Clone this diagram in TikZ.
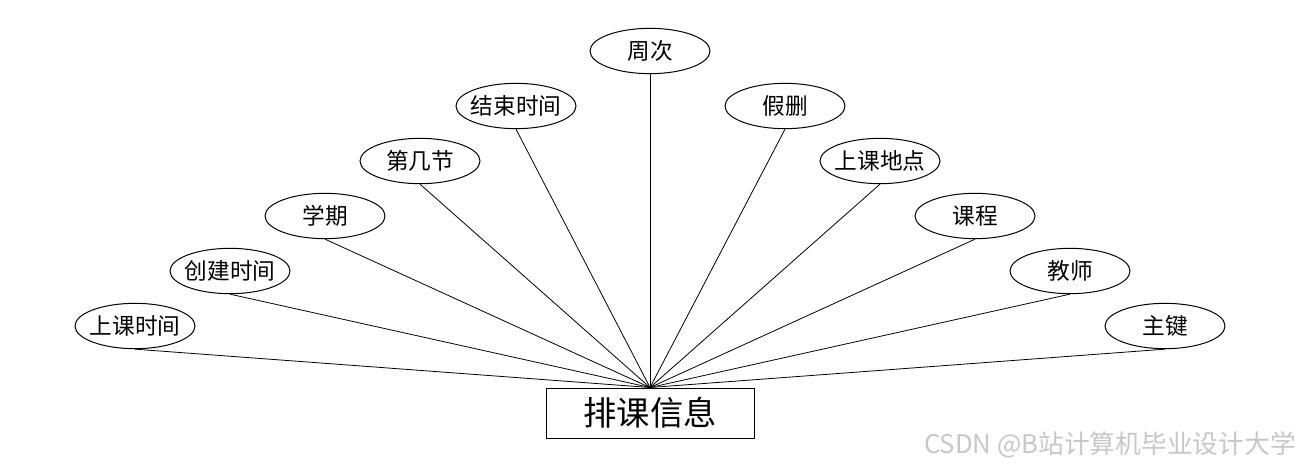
\documentclass[tikz,border=0pt]{standalone}
\usepackage{fontspec}
\newfontfamily\cjk{Noto Sans CJK SC}
\usetikzlibrary{shapes.geometric}
\begin{document}
\begin{tikzpicture}[x=0.75pt,y=-0.75pt,
  attr/.style={draw,ellipse,line width=0.75pt,minimum width=90pt,minimum height=34pt,inner xsep=-10pt,inner ysep=0pt,font=\cjk\fontsize{17}{20}\selectfont},
  ent/.style={draw,rectangle,line width=0.75pt,minimum width=156pt,minimum height=37.5pt,inner sep=0pt,font=\cjk\fontsize{25}{30}\selectfont},
  link/.style={line width=0.6pt}]
\useasboundingbox (0,0) rectangle (1300,468);
\node[ent] (r) at (650,413) {排课信息};
\node[attr] (a1) at (135,326) {上课时间};
\node[attr] (a2) at (230,271) {创建时间};
\node[attr] (a3) at (325,216) {学期};
\node[attr] (a4) at (420,161) {第几节};
\node[attr] (a5) at (516,106) {结束时间};
\node[attr] (a6) at (650,51) {周次};
\node[attr] (a7) at (785,106) {假删};
\node[attr] (a8) at (880,161) {上课地点};
\node[attr] (a9) at (975,216) {课程};
\node[attr] (a10) at (1070,271) {教师};
\node[attr] (a11) at (1165,326) {主键};
\foreach \i in {1,...,11} \draw[link] (a\i.south) -- (r.north);
\node[anchor=east,text=black!22,font=\cjk\fontsize{19.3}{22}\selectfont,inner sep=0pt] (wm) at (1296,445) {CSDN @B站计算机毕业设计大学};
\end{tikzpicture}
\end{document}
